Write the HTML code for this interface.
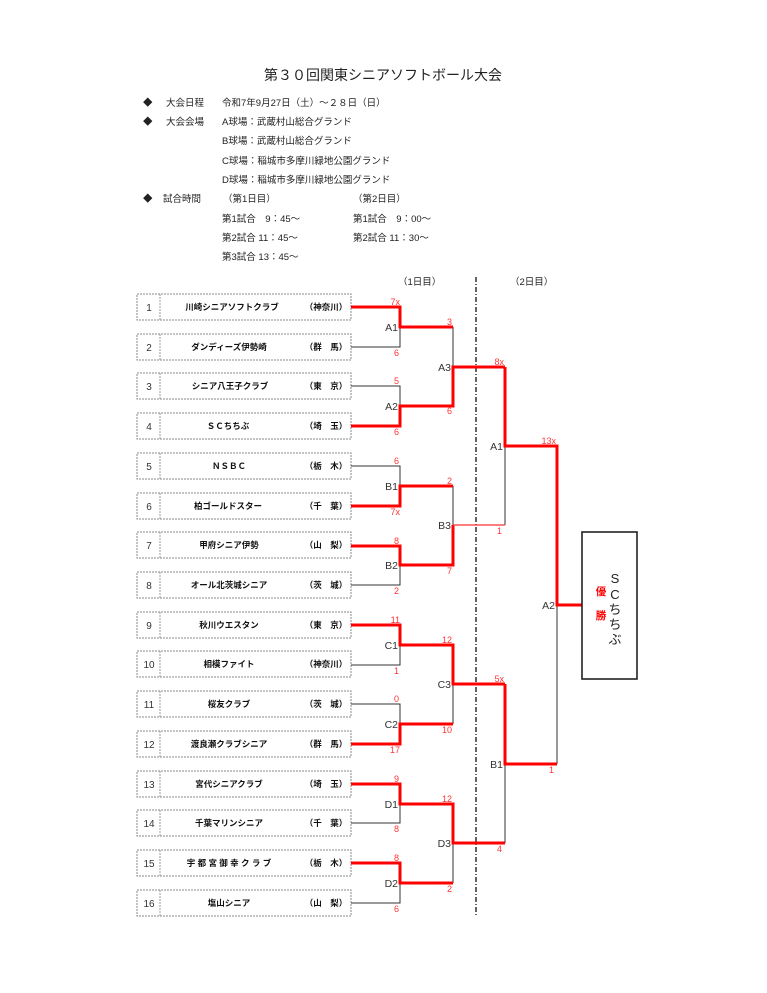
<!DOCTYPE html>
<html><head><meta charset="utf-8"><style>
html,body{margin:0;padding:0;background:#fff;}
svg{display:block;font-family:"Liberation Sans","Noto Sans CJK JP",sans-serif;}
.h{font-size:9.5px;fill:#222;}
.t{font-size:8.5px;fill:#111;font-weight:bold;}
.n{font-size:10px;fill:#333;}
.s{font-size:9px;fill:#f33;text-anchor:end;}
.l{font-size:10.5px;fill:#333;text-anchor:end;}
.k{stroke:#333;stroke-width:1;fill:none;}
.r{stroke:#f00;stroke-width:3;fill:none;}
.b{fill:#fff;stroke:#888;stroke-width:1;stroke-dasharray:2,1;}
</style></head><body>
<svg width="767" height="993" viewBox="0 0 767 993" xmlns="http://www.w3.org/2000/svg">
<text x="383" y="80" font-size="14" text-anchor="middle" fill="#222">第３０回関東シニアソフトボール大会</text>
<g class="h">
<text x="143" y="106">◆</text><text x="166" y="106">大会日程</text><text x="222" y="106">令和7年9月27日（土）～２８日（日）</text>
<text x="143" y="125">◆</text><text x="166" y="125">大会会場</text><text x="222" y="125">A球場：武蔵村山総合グランド</text>
<text x="222" y="144">B球場：武蔵村山総合グランド</text>
<text x="222" y="164">C球場：稲城市多摩川緑地公園グランド</text>
<text x="222" y="183">D球場：稲城市多摩川緑地公園グランド</text>
<text x="143" y="202">◆</text><text x="163" y="202">試合時間</text><text x="223" y="202">（第1日目）</text><text x="353" y="202">（第2日目）</text>
<text x="222" y="222">第1試合　9：45～</text><text x="353" y="222">第1試合　9：00～</text>
<text x="222" y="241">第2試合 11：45～</text><text x="353" y="241">第2試合 11：30～</text>
<text x="222" y="260">第3試合 13：45～</text>
<text x="398" y="285">（1日目）</text><text x="510" y="285">（2日目）</text>
</g>
<line x1="476" y1="277" x2="476" y2="915" stroke="#111" stroke-width="1.3" stroke-dasharray="5,2,1,2"/>
<g id="teams"></g>
<!-- boxes -->
<g>
<rect class="b" x="137" y="294" width="214" height="26"/><rect class="b" x="137" y="334" width="214" height="26"/>
<rect class="b" x="137" y="373" width="214" height="26"/><rect class="b" x="137" y="413" width="214" height="26"/>
<rect class="b" x="137" y="453" width="214" height="26"/><rect class="b" x="137" y="493" width="214" height="26"/>
<rect class="b" x="137" y="532" width="214" height="26"/><rect class="b" x="137" y="572" width="214" height="26"/>
<rect class="b" x="137" y="612" width="214" height="26"/><rect class="b" x="137" y="651" width="214" height="26"/>
<rect class="b" x="137" y="691" width="214" height="26"/><rect class="b" x="137" y="731" width="214" height="26"/>
<rect class="b" x="137" y="771" width="214" height="26"/><rect class="b" x="137" y="810" width="214" height="26"/>
<rect class="b" x="137" y="850" width="214" height="26"/><rect class="b" x="137" y="890" width="214" height="26"/>
</g>
<g stroke="#999" stroke-width="1" stroke-dasharray="2,1">
<line x1="160" y1="294" x2="160" y2="320"/><line x1="160" y1="334" x2="160" y2="360"/><line x1="160" y1="373" x2="160" y2="399"/><line x1="160" y1="413" x2="160" y2="439"/>
<line x1="160" y1="453" x2="160" y2="479"/><line x1="160" y1="493" x2="160" y2="519"/><line x1="160" y1="532" x2="160" y2="558"/><line x1="160" y1="572" x2="160" y2="598"/>
<line x1="160" y1="612" x2="160" y2="638"/><line x1="160" y1="651" x2="160" y2="677"/><line x1="160" y1="691" x2="160" y2="717"/><line x1="160" y1="731" x2="160" y2="757"/>
<line x1="160" y1="771" x2="160" y2="797"/><line x1="160" y1="810" x2="160" y2="836"/><line x1="160" y1="850" x2="160" y2="876"/><line x1="160" y1="890" x2="160" y2="916"/>
</g>
<g class="n" text-anchor="middle">
<text x="149" y="311">1</text><text x="149" y="351">2</text><text x="149" y="390">3</text><text x="149" y="430">4</text>
<text x="149" y="470">5</text><text x="149" y="510">6</text><text x="149" y="549">7</text><text x="149" y="589">8</text>
<text x="149" y="629">9</text><text x="149" y="668">10</text><text x="149" y="708">11</text><text x="149" y="748">12</text>
<text x="149" y="788">13</text><text x="149" y="827">14</text><text x="149" y="867">15</text><text x="149" y="907">16</text>
</g>
<g class="t" text-anchor="middle">
<text x="232" y="310">川崎シニアソフトクラブ</text><text x="229" y="350">ダンディーズ伊勢崎</text>
<text x="230" y="389">シニア八王子クラブ</text><text x="228" y="429">ＳＣちちぶ</text>
<text x="229" y="469">ＮＳＢＣ</text><text x="228" y="509">柏ゴールドスター</text>
<text x="229" y="548">甲府シニア伊勢</text><text x="229" y="588">オール北茨城シニア</text>
<text x="229" y="628">秋川ウエスタン</text><text x="229" y="667">相模ファイト</text>
<text x="229" y="707">桜友クラブ</text><text x="229" y="747">渡良瀬クラブシニア</text>
<text x="229" y="787">宮代シニアクラブ</text><text x="229" y="826">千葉マリンシニア</text>
<text x="229" y="866">宇 都 宮 御 幸 ク ラ ブ</text><text x="229" y="906">塩山シニア</text>
<text x="326" y="310">（神奈川）</text><text x="326" y="350">（群　馬）</text><text x="326" y="389">（東　京）</text><text x="326" y="429">（埼　玉）</text>
<text x="326" y="469">（栃　木）</text><text x="326" y="509">（千　葉）</text><text x="326" y="548">（山　梨）</text><text x="326" y="588">（茨　城）</text>
<text x="326" y="628">（東　京）</text><text x="326" y="667">（神奈川）</text><text x="326" y="707">（茨　城）</text><text x="326" y="747">（群　馬）</text>
<text x="326" y="787">（埼　玉）</text><text x="326" y="826">（千　葉）</text><text x="326" y="866">（栃　木）</text><text x="326" y="906">（山　梨）</text>
</g>
<!-- round 1 black -->
<g class="k">
<path d="M351 347H400V327"/><path d="M351 386H400V406"/>
<path d="M351 466H400V486"/><path d="M351 585H400V565"/>
<path d="M351 665H400V645"/><path d="M351 704H400V724"/>
<path d="M351 823H400V804"/><path d="M351 903H400V883"/>
<path d="M453 367V327"/><path d="M453 525V486"/><path d="M453 684V724"/><path d="M453 843V883"/>
<path d="M505 446V525"/><path d="M505 764V843"/><path d="M557 605V764"/>
</g>
<g class="r">
<path d="M351 307H400V327H453"/><path d="M351 426H400V406H453V367H505"/>
<path d="M351 506H400V486H453"/><path d="M351 546H400V565H453V525"/>
<path d="M351 625H400V645H453V684H505"/><path d="M351 744H400V724H453"/>
<path d="M351 784H400V804H453V843H505"/><path d="M351 863H400V883H453"/>
<path d="M505 367V446H557V605H582"/><path d="M505 684V764H557"/>
</g>
<line x1="453" y1="525" x2="505" y2="525" stroke="#f33" stroke-width="1.2"/>
<g class="l">
<text x="398" y="331">A1</text><text x="398" y="410">A2</text><text x="398" y="490">B1</text><text x="398" y="569">B2</text>
<text x="398" y="649">C1</text><text x="398" y="728">C2</text><text x="398" y="808">D1</text><text x="398" y="887">D2</text>
<text x="451" y="371">A3</text><text x="451" y="529">B3</text><text x="451" y="688">C3</text><text x="451" y="847">D3</text>
<text x="503" y="450">A1</text><text x="503" y="768">B1</text><text x="555" y="609">A2</text>
</g>
<g class="s">
<text x="400" y="305">7x</text><text x="399" y="356">6</text><text x="399" y="384">5</text><text x="399" y="435">6</text>
<text x="399" y="464">6</text><text x="400" y="515">7x</text><text x="399" y="544">8</text><text x="399" y="594">2</text>
<text x="400" y="623">11</text><text x="399" y="674">1</text><text x="399" y="702">0</text><text x="400" y="753">17</text>
<text x="399" y="782">9</text><text x="399" y="832">8</text><text x="399" y="861">8</text><text x="399" y="912">6</text>
<text x="452" y="325">3</text><text x="452" y="414">6</text><text x="452" y="484">2</text><text x="452" y="574">7</text>
<text x="452" y="643">12</text><text x="452" y="733">10</text><text x="452" y="802">12</text><text x="452" y="892">2</text>
<text x="504" y="365">8x</text><text x="502" y="534">1</text><text x="504" y="682">5x</text><text x="502" y="852">4</text>
<text x="556" y="444">13x</text><text x="554" y="773">1</text>
</g>
<rect x="582" y="532" width="55" height="147" fill="none" stroke="#222" stroke-width="1.6"/>
<g font-size="13" fill="#222" text-anchor="middle">
<text x="615" y="583">S</text><text x="615" y="599">C</text><text x="615" y="614">ち</text><text x="615" y="629">ち</text><text x="615" y="644">ぶ</text>
</g>
<g font-size="10.5" fill="#f00" font-weight="bold" text-anchor="middle">
<text x="601" y="595">優</text><text x="601" y="619">勝</text>
</g>
</svg>
</body></html>
